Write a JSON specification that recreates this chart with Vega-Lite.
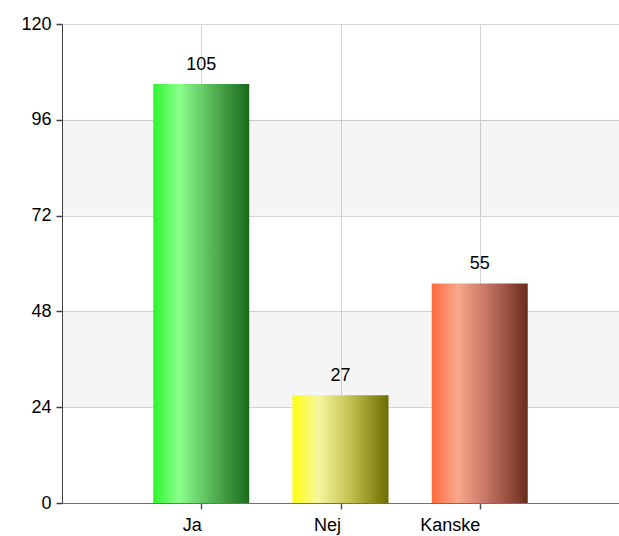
{
  "$schema": "https://vega.github.io/schema/vega-lite/v6.json",
  "width": 557,
  "height": 479,
  "autosize": {"type": "none"},
  "padding": {"left": 62, "top": 24, "right": 0, "bottom": 33},
  "background": "white",
  "config": {
    "view": {"stroke": null},
    "font": "Liberation Sans",
    "axis": {"labelFont": "Liberation Sans", "labelFontSize": 18, "labelColor": "#000000", "gridColor": "#d4d4d4", "gridWidth": 1, "ticks": true, "tickSize": 6, "tickWidth": 1.5, "title": null}
  },
  "datasets": {
    "answers": [
      {"svar": "Ja", "antal": 105},
      {"svar": "Nej", "antal": 27},
      {"svar": "Kanske", "antal": 55}
    ],
    "bands": [
      {"lo": 24, "hi": 48},
      {"lo": 72, "hi": 96}
    ]
  },
  "layer": [
    {
      "data": {"name": "bands"},
      "mark": {"type": "rect", "color": "#000000", "opacity": 0.04},
      "encoding": {
        "y": {"field": "lo", "type": "quantitative", "scale": {"domain": [0, 120]}},
        "y2": {"field": "hi"}
      }
    },
    {
      "data": {"name": "answers"},
      "transform": [{"filter": "datum.svar === 'Ja'"}],
      "mark": {"type": "bar", "size": 96, "color": {"gradient": "linear", "x1": 0, "y1": 0, "x2": 1, "y2": 0, "stops": [
        {"offset": 0, "color": "#2cf52c"},
        {"offset": 0.27, "color": "#8cff8c"},
        {"offset": 0.6, "color": "#58b858"},
        {"offset": 1, "color": "#1a6a1a"}
      ]}},
      "encoding": {
        "x": {"field": "svar", "type": "nominal"},
        "y": {"field": "antal", "type": "quantitative"}
      }
    },
    {
      "data": {"name": "answers"},
      "transform": [{"filter": "datum.svar === 'Nej'"}],
      "mark": {"type": "bar", "size": 96, "color": {"gradient": "linear", "x1": 0, "y1": 0, "x2": 1, "y2": 0, "stops": [
        {"offset": 0, "color": "#ffff10"},
        {"offset": 0.27, "color": "#f6f6a0"},
        {"offset": 0.6, "color": "#c2c250"},
        {"offset": 1, "color": "#6c6c00"}
      ]}},
      "encoding": {
        "x": {"field": "svar", "type": "nominal"},
        "y": {"field": "antal", "type": "quantitative"}
      }
    },
    {
      "data": {"name": "answers"},
      "transform": [{"filter": "datum.svar === 'Kanske'"}],
      "mark": {"type": "bar", "size": 96, "color": {"gradient": "linear", "x1": 0, "y1": 0, "x2": 1, "y2": 0, "stops": [
        {"offset": 0, "color": "#ff6a3c"},
        {"offset": 0.27, "color": "#f8a88a"},
        {"offset": 0.6, "color": "#c07060"},
        {"offset": 1, "color": "#6a2c1c"}
      ]}},
      "encoding": {
        "x": {"field": "svar", "type": "nominal"},
        "y": {"field": "antal", "type": "quantitative"}
      }
    },
    {
      "data": {"name": "answers"},
      "mark": {"type": "text", "baseline": "alphabetic", "dy": -14, "fontSize": 18, "color": "#000000", "font": "Liberation Sans"},
      "encoding": {
        "x": {
          "field": "svar", "type": "nominal", "sort": ["Ja", "Nej", "Kanske"],
          "scale": {"type": "point", "domain": ["Ja", "Nej", "Kanske"], "padding": 1},
          "axis": {"labelAngle": 0, "grid": true, "domainColor": "#707070", "tickColor": "#555555", "labelPadding": 16}
        },
        "y": {
          "field": "antal", "type": "quantitative",
          "scale": {"domain": [0, 120], "nice": false, "zero": true},
          "axis": {"values": [0, 24, 48, 72, 96, 120], "grid": true, "domainColor": "#404040", "tickColor": "#404040", "labelPadding": 5}
        },
        "text": {"field": "antal", "type": "quantitative"}
      }
    }
  ]
}
